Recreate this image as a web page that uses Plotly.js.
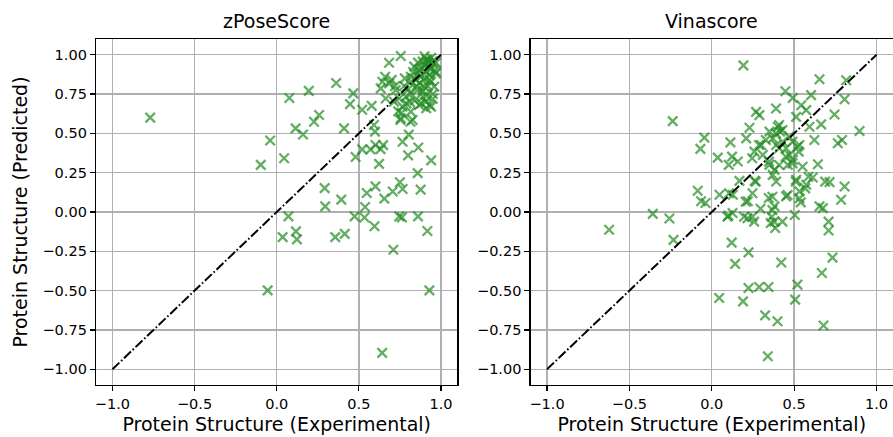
<!DOCTYPE html>
<html>
<head>
<meta charset="utf-8">
<script src="https://cdn.plot.ly/plotly-3.0.1.min.js"></script>
<style>html,body{margin:0;padding:0;background:#fff;}#chart{width:893px;height:437px;}</style>
</head>
<body>
<div id="chart"></div>
<script>
// zPoseScore: experimental vs predicted
const zposeExp = [-0.77,-0.04,-0.097,0.045,0.077,0.115,0.16,0.195,0.227,0.258,0.362,0.41,0.446,0.466,0.52,0.578,0.598,0.52,0.48,0.571,0.601,0.648,0.623,0.632,0.766,0.804,0.80,0.862,0.94,0.858,0.876,0.75,0.766,0.706,0.655,0.601,0.548,0.538,0.474,0.534,0.595,0.393,0.292,0.295,0.071,0.036,0.117,0.123,0.356,0.414,0.746,0.762,0.86,0.917,0.71,-0.055,0.929,0.642,0.753,0.814,0.592,
  0.684,0.755,0.643,0.684,0.633,0.724,0.776,0.816,0.867,0.888,0.918,0.949,0.969,0.929,0.898,0.857,0.816,0.786,0.745,0.714,0.663,0.765,0.816,0.755,0.827,0.867,0.908,0.939,0.888,0.847,0.878,0.908,0.837,0.939,0.959,
  0.90,0.92,0.93,0.95,0.91,0.88,0.86,0.90,0.93,0.87,0.92,0.94,0.89,0.85,0.91,0.95,0.88,0.84,0.80,0.82,0.78,0.96,0.97,0.90,0.94,0.86,0.83,0.79,0.74,0.70,0.66,0.72,0.93,0.91,0.95,0.76,0.81,0.97];
const zposePred = [0.60,0.455,0.30,0.342,0.725,0.532,0.493,0.770,0.574,0.617,0.82,0.532,0.686,0.754,0.650,0.675,0.511,0.398,0.350,0.398,0.426,0.425,0.306,0.400,0.447,0.492,0.360,0.410,0.328,0.247,0.142,0.189,0.146,0.130,0.085,0.163,0.121,0.032,-0.028,-0.035,-0.091,0.079,0.152,0.036,-0.028,-0.160,-0.123,-0.174,-0.160,-0.139,-0.028,-0.034,-0.028,-0.121,-0.240,-0.498,-0.498,-0.896,0.585,0.574,0.553,
  0.949,0.992,0.828,0.818,0.786,0.775,0.801,0.860,0.903,0.956,0.966,0.945,0.881,0.839,0.797,0.775,0.754,0.733,0.722,0.701,0.722,0.670,0.638,0.595,0.585,0.680,0.701,0.670,0.733,0.839,0.860,0.892,0.924,0.907,0.797,
  0.93,0.95,0.92,0.96,0.97,0.91,0.88,0.85,0.87,0.82,0.80,0.83,0.77,0.80,0.74,0.72,0.69,0.71,0.78,0.83,0.85,0.90,0.95,0.99,0.98,0.95,0.89,0.69,0.64,0.84,0.86,0.80,0.68,0.66,0.75,0.63,0.70,0.89];

// Vinascore: experimental vs predicted
const vinaExp = [-0.237,0.192,0.654,0.816,0.447,0.492,0.603,0.806,0.39,0.269,0.289,0.543,0.573,0.512,0.745,0.664,0.593,0.897,0.791,0.765,0.623,-0.045,-0.069,0.113,0.036,0.123,0.158,0.103,0.229,0.209,0.259,0.245,0.300,0.310,0.350,0.370,0.401,0.415,0.431,0.451,0.391,0.472,0.492,0.462,0.528,0.532,0.381,0.350,0.644,0.715,0.806,0.785,0.613,0.573,0.532,0.512,0.451,0.391,0.370,0.346,0.381,0.261,0.168,0.128,0.047,-0.085,-0.065,-0.038,0.219,0.296,0.654,0.674,
  0.409,0.429,0.389,0.47,0.49,0.409,0.449,0.287,0.328,0.348,0.409,0.52,0.551,-0.623,-0.358,-0.257,-0.232,0.105,0.095,0.121,0.142,0.223,0.422,0.733,0.196,0.217,0.247,0.257,0.206,0.247,0.267,0.368,0.368,0.379,0.429,0.504,0.364,0.460,0.532,0.510,0.567,0.587,0.688,0.709,0.709,0.490,0.358,0.385,0.540,0.045,0.190,0.223,0.287,0.344,0.520,0.506,0.324,0.399,0.678,0.340,0.668,0.101,0.126];
const vinaPred = [0.578,0.932,0.844,0.838,0.768,0.726,0.743,0.717,0.658,0.637,0.616,0.679,0.648,0.605,0.620,0.557,0.542,0.515,0.458,0.437,0.458,0.473,0.401,0.443,0.346,0.352,0.321,0.300,0.536,0.468,0.384,0.342,0.426,0.363,0.511,0.468,0.542,0.511,0.447,0.405,0.426,0.363,0.331,0.300,0.384,0.426,0.268,0.300,0.304,0.190,0.162,0.078,0.219,0.173,0.131,0.205,0.099,0.194,0.236,0.089,0.036,0.198,0.198,0.110,0.110,0.135,0.068,0.057,0.068,0.021,0.036,0.025,
  0.553,0.521,0.500,0.479,0.447,0.405,0.352,0.426,0.458,0.320,0.299,0.415,0.288,-0.113,-0.012,-0.041,-0.177,0.119,-0.030,-0.195,-0.330,-0.257,-0.321,-0.290,-0.030,-0.040,-0.030,-0.061,0.066,0.119,0.193,0.097,0.013,-0.061,-0.061,-0.019,-0.030,0.108,0.087,0.193,0.150,0.224,0.193,-0.061,-0.118,0.309,-0.070,-0.102,0.061,-0.547,-0.568,-0.483,-0.477,-0.477,-0.462,-0.557,-0.657,-0.695,-0.722,-0.917,-0.388,-0.023,-0.006];

const diagX = [-1, 1];
const diagY = [-1, 1];
const panelTitles = ['zPoseScore', 'Vinascore'];
const xTitle = 'Protein Structure (Experimental)';
const yTitle = 'Protein Structure (Predicted)';
const xTicks = [-1.0, -0.5, 0.0, 0.5, 1.0];
const yTicks = [-1.0, -0.75, -0.5, -0.25, 0.0, 0.25, 0.5, 0.75, 1.0];

const FONT = 'DejaVu Sans, sans-serif';
const markerStyle = {symbol: 'x-thin-open', size: 9.5, color: 'rgba(34,139,34,0.7)', line: {width: 2.3, color: 'rgba(34,139,34,0.7)'}};
const lineStyle = {color: 'black', width: 2, dash: '9.6px,2.4px,1.6px,2.4px'};

const traces = [
  {x: zposeExp, y: zposePred, type: 'scatter', mode: 'markers', marker: markerStyle, xaxis: 'x', yaxis: 'y', hoverinfo: 'skip'},
  {x: diagX, y: diagY, type: 'scatter', mode: 'lines', line: lineStyle, xaxis: 'x', yaxis: 'y', hoverinfo: 'skip'},
  {x: vinaExp, y: vinaPred, type: 'scatter', mode: 'markers', marker: markerStyle, xaxis: 'x2', yaxis: 'y2', hoverinfo: 'skip'},
  {x: diagX, y: diagY, type: 'scatter', mode: 'lines', line: lineStyle, xaxis: 'x2', yaxis: 'y2', hoverinfo: 'skip'}
];

function xAxis(domain, anchor) {
  return {domain: domain, anchor: anchor, range: [-1.1, 1.1], tickvals: xTicks, tickformat: '.1f',
    showgrid: true, gridcolor: '#b0b0b0', gridwidth: 1.3, zeroline: false,
    showline: true, linecolor: 'black', linewidth: 1.2, mirror: true,
    ticks: 'outside', ticklen: 5, tickwidth: 1.2, tickcolor: 'black',
    tickfont: {family: FONT, size: 14.5, color: 'black'},
    title: {text: xTitle, font: {family: FONT, size: 19, color: 'black'}, standoff: 7},
    automargin: false};
}
function yAxis(anchor, withTitle) {
  const a = {domain: [0, 1], anchor: anchor, range: [-1.1, 1.1], tickvals: yTicks, tickformat: '.2f',
    showgrid: true, gridcolor: '#b0b0b0', gridwidth: 1.3, zeroline: false,
    showline: true, linecolor: 'black', linewidth: 1.2, mirror: true,
    ticks: 'outside', ticklen: 5, tickwidth: 1.2, tickcolor: 'black',
    tickfont: {family: FONT, size: 14.5, color: 'black'},
    automargin: false};
  if (withTitle) a.title = {text: yTitle, font: {family: FONT, size: 19, color: 'black'}, standoff: 9};
  return a;
}

const layout = {
  width: 893, height: 437,
  margin: {l: 96, r: 0, t: 39, b: 52, pad: 0},
  paper_bgcolor: 'white', plot_bgcolor: 'white',
  showlegend: false,
  xaxis: xAxis([0, 0.4535], 'y'),
  yaxis: yAxis('x', true),
  xaxis2: xAxis([0.5452, 1.0], 'y2'),
  yaxis2: yAxis('x2', false),
  annotations: panelTitles.map((t, i) => ({
    text: t, xref: (i === 0 ? 'x' : 'x2') + ' domain', x: 0.5, yref: 'paper', y: 1,
    xanchor: 'center', yanchor: 'bottom', yshift: 5, showarrow: false,
    font: {family: FONT, size: 19, color: 'black'}
  }))
};

Plotly.newPlot('chart', traces, layout, {staticPlot: true, displayModeBar: false});
</script>
</body>
</html>
